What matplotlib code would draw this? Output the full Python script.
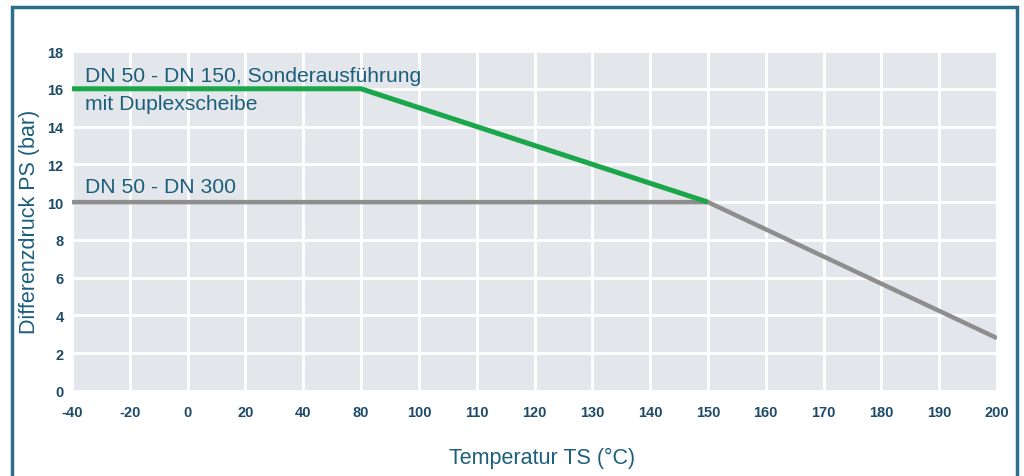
import numpy as np
import matplotlib.pyplot as plt
from matplotlib.patches import Rectangle

# tick values on the x axis (evenly spaced on the chart, not linear)
x_ticks = [-40, -20, 0, 20, 40, 80, 100, 110, 120, 130, 140, 150, 160, 170, 180, 190, 200]
y_ticks = [0, 2, 4, 6, 8, 10, 12, 14, 16, 18]

# series
special_temp = [-40, 80, 150]
special_ps = [16, 16, 10]
std_temp = [-40, 150, 200]
std_ps = [10, 10, 2.8]

label_special = ["DN 50 - DN 150, Sonderausführung", "mit Duplexscheibe"]
label_std = "DN 50 - DN 300"

TEXT = "#1c5f7c"
TICK = "#1d4b68"
BORDER = "#2b6f8d"

plt.rcParams["font.family"] = ["Liberation Sans", "DejaVu Sans"]

idx = np.arange(len(x_ticks), dtype=float)


def forward(v):
    return np.interp(v, x_ticks, idx)


def inverse(p):
    return np.interp(p, idx, x_ticks)


fig = plt.figure(figsize=(10.24, 4.77), dpi=100)
ax = fig.add_axes([72 / 1024, 1 - 392 / 477, 925 / 1024, 340 / 477])
ax.set_xscale("function", functions=(forward, inverse))

ax.set_facecolor("#e3e6ea")
ax.plot(std_temp, std_ps, color="#8e8e8e", lw=3.2, solid_capstyle="butt", zorder=3)
ax.plot(special_temp, special_ps, color="#1aa64a", lw=3.6, solid_capstyle="butt", zorder=4)

ax.text(-35.5, 16.72, label_special[0], color=TEXT, fontsize=15.2, va="center")
ax.text(-35.5, 15.2, label_special[1], color=TEXT, fontsize=15.2, va="center")
ax.text(-35.5, 10.85, label_std, color=TEXT, fontsize=15.2, va="center")

ax.set_xlim(-40, 200)
ax.set_ylim(0, 18)
ax.set_xticks(x_ticks)
ax.set_xticklabels([str(t) for t in x_ticks])
ax.set_yticks(y_ticks)
ax.minorticks_off()
ax.tick_params(length=0, labelsize=10.5, labelcolor=TICK)
ax.tick_params(axis="x", pad=10)
ax.tick_params(axis="y", pad=6)
for lab in ax.get_xticklabels() + ax.get_yticklabels():
    lab.set_fontweight("bold")
ax.grid(True, color="white", lw=2)
ax.set_axisbelow(True)
for s in ax.spines.values():
    s.set_visible(False)

ax.set_xlabel("Temperatur TS (°C)", color=TEXT, fontsize=15.5)
ax.set_ylabel("Differenzdruck PS (bar)", color=TEXT, fontsize=15.5)
ax.xaxis.set_label_coords(0.5 + 8 / 925, -66 / 340)
ax.yaxis.set_label_coords(-42 / 925, 0.5)
ax.xaxis.label.set_va("center")
ax.yaxis.label.set_va("center")

fig.patches.append(Rectangle((12 / 1024, -0.05), 1005 / 1024, 1.05 - 8 / 477,
                             transform=fig.transFigure, fill=False,
                             edgecolor=BORDER, lw=2.5))

fig.savefig("out.png", dpi=100)
